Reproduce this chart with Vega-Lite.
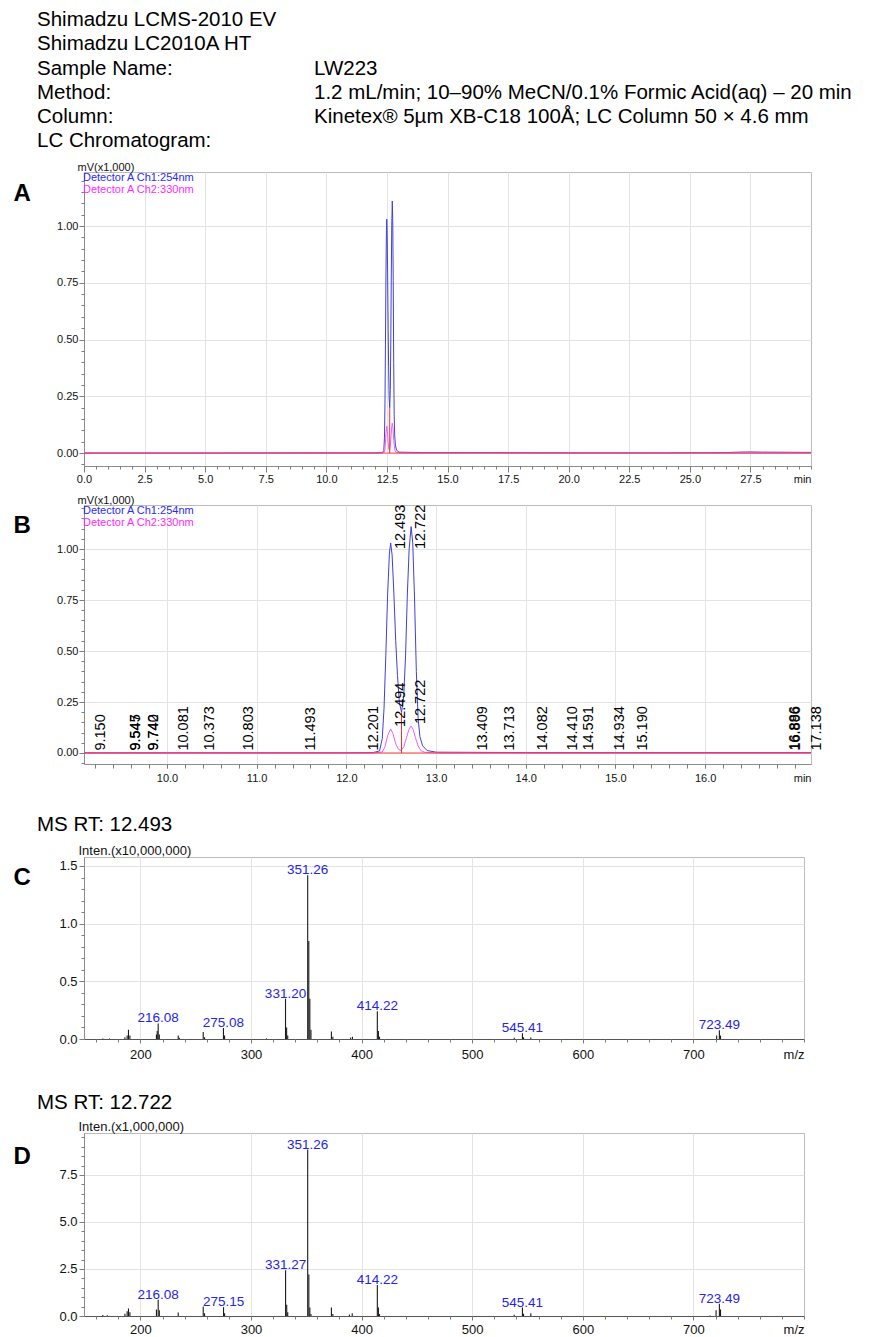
{
"$schema": "https://vega.github.io/schema/vega-lite/v6.json",
"background": "white",
"padding": {"left": 12, "top": 2, "right": 2, "bottom": 2},
"spacing": 8,
"resolve": {"scale": {"color": "independent"}, "legend": {"color": "independent"}},
"datasets": {
"header": [
{"line": 1, "col": 0, "text": "Shimadzu LCMS-2010 EV"},
{"line": 2, "col": 0, "text": "Shimadzu LC2010A HT"},
{"line": 3, "col": 0, "text": "Sample Name:"},
{"line": 3, "col": 1, "text": "LW223"},
{"line": 4, "col": 0, "text": "Method:"},
{"line": 4, "col": 1, "text": "1.2 mL/min; 10–90% MeCN/0.1% Formic Acid(aq) – 20 min"},
{"line": 5, "col": 0, "text": "Column:"},
{"line": 5, "col": 1, "text": "Kinetex® 5µm XB-C18 100Å; LC Column 50 × 4.6 mm"},
{"line": 6, "col": 0, "text": "LC Chromatogram:"}
],
"chrom": [
{"t": 0, "ch": "Detector A Ch1:254nm", "v": 0.0},
{"t": 2, "ch": "Detector A Ch1:254nm", "v": 0.0},
{"t": 5, "ch": "Detector A Ch1:254nm", "v": 0.0},
{"t": 8, "ch": "Detector A Ch1:254nm", "v": 0.0005},
{"t": 10, "ch": "Detector A Ch1:254nm", "v": 0.001},
{"t": 12, "ch": "Detector A Ch1:254nm", "v": 0.001},
{"t": 12.3, "ch": "Detector A Ch1:254nm", "v": 0.002},
{"t": 12.37, "ch": "Detector A Ch1:254nm", "v": 0.01},
{"t": 12.4, "ch": "Detector A Ch1:254nm", "v": 0.07},
{"t": 12.42, "ch": "Detector A Ch1:254nm", "v": 0.22},
{"t": 12.44, "ch": "Detector A Ch1:254nm", "v": 0.48},
{"t": 12.46, "ch": "Detector A Ch1:254nm", "v": 0.78},
{"t": 12.48, "ch": "Detector A Ch1:254nm", "v": 0.98},
{"t": 12.494, "ch": "Detector A Ch1:254nm", "v": 1.03},
{"t": 12.51, "ch": "Detector A Ch1:254nm", "v": 0.97},
{"t": 12.53, "ch": "Detector A Ch1:254nm", "v": 0.78},
{"t": 12.55, "ch": "Detector A Ch1:254nm", "v": 0.55},
{"t": 12.57, "ch": "Detector A Ch1:254nm", "v": 0.38},
{"t": 12.59, "ch": "Detector A Ch1:254nm", "v": 0.25},
{"t": 12.615, "ch": "Detector A Ch1:254nm", "v": 0.2},
{"t": 12.64, "ch": "Detector A Ch1:254nm", "v": 0.28},
{"t": 12.66, "ch": "Detector A Ch1:254nm", "v": 0.48},
{"t": 12.68, "ch": "Detector A Ch1:254nm", "v": 0.78},
{"t": 12.7, "ch": "Detector A Ch1:254nm", "v": 1.0},
{"t": 12.722, "ch": "Detector A Ch1:254nm", "v": 1.11},
{"t": 12.74, "ch": "Detector A Ch1:254nm", "v": 1.03},
{"t": 12.76, "ch": "Detector A Ch1:254nm", "v": 0.76},
{"t": 12.78, "ch": "Detector A Ch1:254nm", "v": 0.4},
{"t": 12.8, "ch": "Detector A Ch1:254nm", "v": 0.17},
{"t": 12.82, "ch": "Detector A Ch1:254nm", "v": 0.08},
{"t": 12.85, "ch": "Detector A Ch1:254nm", "v": 0.035},
{"t": 12.9, "ch": "Detector A Ch1:254nm", "v": 0.012},
{"t": 13.0, "ch": "Detector A Ch1:254nm", "v": 0.004},
{"t": 14.0, "ch": "Detector A Ch1:254nm", "v": 0.002},
{"t": 17.0, "ch": "Detector A Ch1:254nm", "v": 0.002},
{"t": 20.0, "ch": "Detector A Ch1:254nm", "v": 0.001},
{"t": 24.0, "ch": "Detector A Ch1:254nm", "v": 0.001},
{"t": 26.5, "ch": "Detector A Ch1:254nm", "v": 0.002},
{"t": 27.0, "ch": "Detector A Ch1:254nm", "v": 0.004},
{"t": 27.5, "ch": "Detector A Ch1:254nm", "v": 0.005},
{"t": 28.0, "ch": "Detector A Ch1:254nm", "v": 0.004},
{"t": 30.0, "ch": "Detector A Ch1:254nm", "v": 0.003},
{"t": 0, "ch": "Detector A Ch2:330nm", "v": 0.0},
{"t": 10, "ch": "Detector A Ch2:330nm", "v": 0.0},
{"t": 12.3, "ch": "Detector A Ch2:330nm", "v": 0.0},
{"t": 12.4, "ch": "Detector A Ch2:330nm", "v": 0.005},
{"t": 12.43, "ch": "Detector A Ch2:330nm", "v": 0.03},
{"t": 12.46, "ch": "Detector A Ch2:330nm", "v": 0.085},
{"t": 12.494, "ch": "Detector A Ch2:330nm", "v": 0.118},
{"t": 12.52, "ch": "Detector A Ch2:330nm", "v": 0.095},
{"t": 12.55, "ch": "Detector A Ch2:330nm", "v": 0.045},
{"t": 12.58, "ch": "Detector A Ch2:330nm", "v": 0.018},
{"t": 12.61, "ch": "Detector A Ch2:330nm", "v": 0.012},
{"t": 12.64, "ch": "Detector A Ch2:330nm", "v": 0.03},
{"t": 12.67, "ch": "Detector A Ch2:330nm", "v": 0.075},
{"t": 12.7, "ch": "Detector A Ch2:330nm", "v": 0.118},
{"t": 12.722, "ch": "Detector A Ch2:330nm", "v": 0.132},
{"t": 12.745, "ch": "Detector A Ch2:330nm", "v": 0.115},
{"t": 12.77, "ch": "Detector A Ch2:330nm", "v": 0.075},
{"t": 12.8, "ch": "Detector A Ch2:330nm", "v": 0.035},
{"t": 12.83, "ch": "Detector A Ch2:330nm", "v": 0.012},
{"t": 12.87, "ch": "Detector A Ch2:330nm", "v": 0.004},
{"t": 13.0, "ch": "Detector A Ch2:330nm", "v": 0.0},
{"t": 30.0, "ch": "Detector A Ch2:330nm", "v": 0.0}
],
"peaksB": [
{"rt": 9.150, "h": 0.002},
{"rt": 9.545, "h": 0.002},
{"rt": 9.547, "h": 0.002},
{"rt": 9.740, "h": 0.002},
{"rt": 9.742, "h": 0.002},
{"rt": 10.081, "h": 0.002},
{"rt": 10.373, "h": 0.002},
{"rt": 10.803, "h": 0.002},
{"rt": 11.493, "h": 0.002},
{"rt": 12.201, "h": 0.003},
{"rt": 12.493, "h": 1.03},
{"rt": 12.494, "h": 0.118},
{"rt": 12.722, "h": 1.11},
{"rt": 12.722, "h": 0.132},
{"rt": 13.409, "h": 0.002},
{"rt": 13.713, "h": 0.002},
{"rt": 14.082, "h": 0.002},
{"rt": 14.410, "h": 0.002},
{"rt": 14.591, "h": 0.002},
{"rt": 14.934, "h": 0.002},
{"rt": 15.190, "h": 0.002},
{"rt": 16.886, "h": 0.002},
{"rt": 16.896, "h": 0.002},
{"rt": 17.138, "h": 0.002}
],
"ms1": [
{"mz": 166, "i": 0.005}, {"mz": 172, "i": 0.004}, {"mz": 186, "i": 0.015}, {"mz": 188, "i": 0.03},
{"mz": 189.2, "i": 0.08}, {"mz": 190.5, "i": 0.03}, {"mz": 214.5, "i": 0.04}, {"mz": 215.2, "i": 0.07},
{"mz": 216.08, "i": 0.135, "lab": true}, {"mz": 217.1, "i": 0.04}, {"mz": 234.2, "i": 0.03}, {"mz": 235.2, "i": 0.01},
{"mz": 256.8, "i": 0.06}, {"mz": 258, "i": 0.015}, {"mz": 275.08, "i": 0.095, "lab": true}, {"mz": 276.1, "i": 0.03},
{"mz": 314, "i": 0.005}, {"mz": 331.2, "i": 0.35, "lab": true}, {"mz": 332.2, "i": 0.1}, {"mz": 333.2, "i": 0.03},
{"mz": 351.26, "i": 1.42, "lab": true}, {"mz": 352.25, "i": 0.85}, {"mz": 353.2, "i": 0.35}, {"mz": 354.2, "i": 0.08},
{"mz": 372.7, "i": 0.065}, {"mz": 374, "i": 0.02}, {"mz": 390, "i": 0.012}, {"mz": 391.7, "i": 0.02},
{"mz": 414.22, "i": 0.24, "lab": true}, {"mz": 415.2, "i": 0.07}, {"mz": 416.2, "i": 0.02},
{"mz": 538, "i": 0.01}, {"mz": 545.41, "i": 0.05, "lab": true}, {"mz": 546.4, "i": 0.015}, {"mz": 553, "i": 0.012},
{"mz": 721, "i": 0.03}, {"mz": 723.49, "i": 0.075, "lab": true}, {"mz": 724.5, "i": 0.03}
],
"ms2": [
{"mz": 166, "i": 0.05}, {"mz": 170, "i": 0.04}, {"mz": 186, "i": 0.12}, {"mz": 188, "i": 0.25},
{"mz": 189.2, "i": 0.4}, {"mz": 190.5, "i": 0.2}, {"mz": 214.5, "i": 0.35}, {"mz": 216.08, "i": 0.87, "lab": true},
{"mz": 217.1, "i": 0.3}, {"mz": 234.2, "i": 0.18}, {"mz": 256.8, "i": 0.5}, {"mz": 258, "i": 0.15},
{"mz": 275.15, "i": 0.47, "lab": true}, {"mz": 276.1, "i": 0.15}, {"mz": 331.27, "i": 2.43, "lab": true}, {"mz": 332.3, "i": 0.6},
{"mz": 333.2, "i": 0.2}, {"mz": 351.26, "i": 8.85, "lab": true}, {"mz": 352.3, "i": 2.2}, {"mz": 353.2, "i": 0.45},
{"mz": 354.2, "i": 0.1}, {"mz": 372.7, "i": 0.45}, {"mz": 374, "i": 0.1}, {"mz": 389, "i": 0.08},
{"mz": 391.5, "i": 0.15}, {"mz": 414.22, "i": 1.65, "lab": true}, {"mz": 415.2, "i": 0.45}, {"mz": 416.2, "i": 0.1},
{"mz": 538, "i": 0.07}, {"mz": 545.41, "i": 0.45, "lab": true}, {"mz": 546.4, "i": 0.12}, {"mz": 553, "i": 0.15},
{"mz": 715, "i": 0.03}, {"mz": 720.5, "i": 0.3}, {"mz": 723.49, "i": 0.65, "lab": true}, {"mz": 724.5, "i": 0.35}
]
},
"vconcat": [
{
"width": 727, "height": 145,
"view": {"stroke": null},
"data": {"name": "header"},
"mark": {"type": "text", "align": "left", "baseline": "middle", "fontSize": 20.5, "color": "#000000"},
"encoding": {
"x": {"field": "col", "type": "quantitative", "scale": {"domain": [0.16968, 2.79423], "nice": false, "zero": false}, "axis": null},
"y": {"field": "line", "type": "quantitative", "scale": {"domain": [0.244, 6.236], "reverse": true, "nice": false, "zero": false}, "axis": null},
"text": {"field": "text"}
}
},
{
"width": 727, "height": 294,
"resolve": {"axis": {"x": "independent", "y": "independent"}},
"layer": [
{
"data": {"name": "chrom"},
"transform": [{"filter": "datum.ch === 'Detector A Ch1:254nm'"}],
"mark": {"type": "line", "strokeWidth": 1, "clip": true},
"encoding": {
"x": {"field": "t", "type": "quantitative", "scale": {"domain": [0, 30], "nice": false, "zero": false},
"axis": {"orient": "bottom", "values": [0, 2.5, 5, 7.5, 10, 12.5, 15, 17.5, 20, 22.5, 25, 27.5], "format": ".1f", "tickSize": 6, "labelPadding": 1, "grid": true, "title": "min", "titleAnchor": "end", "titleAlign": "right", "titleBaseline": "top", "titleY": 7, "titleFontSize": 11}},
"y": {"field": "v", "type": "quantitative", "scale": {"domain": [-0.057, 1.238], "nice": false, "zero": false},
"axis": {"orient": "left", "values": [0, 0.25, 0.5, 0.75, 1], "format": ".2f", "tickSize": 5, "labelPadding": 1, "grid": true, "title": "mV(x1,000)", "titleAngle": 0, "titleAlign": "left", "titleBaseline": "alphabetic", "titleX": -7, "titleY": -2, "titleFontSize": 11}},
"color": {"field": "ch", "type": "nominal", "scale": {"domain": ["Detector A Ch1:254nm", "Detector A Ch2:330nm"], "range": ["#4040d8", "#f060f0"]},
"legend": {"title": null, "orient": "top-left", "offset": 0, "padding": 0, "rowPadding": 0, "symbolSize": 0, "symbolOpacity": 0, "symbolStrokeWidth": 0, "labelOffset": -12, "labelFontSize": 11, "labelLimit": 300,
"encode": {"labels": {"update": {"fill": {"signal": "datum.value === 'Detector A Ch1:254nm' ? '#2a2aff' : '#ff2aff'"}}}}}}
}
},
{
"data": {"name": "chrom"},
"transform": [{"filter": "datum.ch === 'Detector A Ch2:330nm'"}],
"mark": {"type": "line", "strokeWidth": 1, "clip": true},
"encoding": {
"x": {"field": "t", "type": "quantitative",
"axis": {"orient": "bottom", "values": [0,0.5,1,1.5,2,2.5,3,3.5,4,4.5,5,5.5,6,6.5,7,7.5,8,8.5,9,9.5,10,10.5,11,11.5,12,12.5,13,13.5,14,14.5,15,15.5,16,16.5,17,17.5,18,18.5,19,19.5,20,20.5,21,21.5,22,22.5,23,23.5,24,24.5,25,25.5,26,26.5,27,27.5,28,28.5,29,29.5,30], "labels": false, "grid": false, "domain": false, "tickSize": 3, "title": null}},
"y": {"field": "v", "type": "quantitative",
"axis": {"orient": "left", "values": [-0.05,0,0.05,0.1,0.15,0.2,0.25,0.3,0.35,0.4,0.45,0.5,0.55,0.6,0.65,0.7,0.75,0.8,0.85,0.9,0.95,1,1.05,1.1,1.15,1.2], "labels": false, "grid": false, "domain": false, "tickSize": 3, "title": "A", "titleAngle": 0, "titleAlign": "left", "titleBaseline": "top", "titleX": -71, "titleY": 9, "titleFontSize": 24, "titleFontWeight": "bold", "titleColor": "#000000"}},
"color": {"field": "ch", "type": "nominal",
"legend": {"title": null, "orient": "top-left", "offset": 0, "padding": 0, "rowPadding": 0, "symbolSize": 0, "symbolOpacity": 0, "symbolStrokeWidth": 0, "labelOffset": -12, "labelFontSize": 11, "labelLimit": 300,
"encode": {"labels": {"update": {"fill": {"signal": "datum.value === 'Detector A Ch1:254nm' ? '#2a2aff' : '#ff2aff'"}}}}}}
}
},
{
"data": {"values": [{}]},
"mark": {"type": "rule", "color": "#ff2a2a", "strokeWidth": 1, "opacity": 0.85},
"encoding": {"y": {"datum": 0, "type": "quantitative", "axis": null}}
},
{
"data": {"values": [{}]},
"mark": {"type": "rule", "color": "#ff2a2a", "strokeWidth": 1},
"encoding": {"x": {"datum": 12.615, "type": "quantitative", "axis": null}, "y": {"datum": 0, "type": "quantitative", "axis": null}, "y2": {"datum": 0.2}}
}
]
},
{
"width": 727, "height": 259,
"resolve": {"axis": {"x": "independent", "y": "independent"}},
"layer": [
{
"data": {"name": "chrom"},
"transform": [{"filter": "datum.ch === 'Detector A Ch1:254nm'"}],
"mark": {"type": "line", "strokeWidth": 1, "clip": true},
"encoding": {
"x": {"field": "t", "type": "quantitative", "scale": {"domain": [9.075, 17.18], "nice": false, "zero": false},
"axis": {"orient": "bottom", "values": [10, 11, 12, 13, 14, 15, 16], "format": ".1f", "tickSize": 4, "labelPadding": 4, "grid": true, "title": "min", "titleAnchor": "end", "titleAlign": "right", "titleBaseline": "top", "titleY": 8, "titleFontSize": 11}},
"y": {"field": "v", "type": "quantitative", "scale": {"domain": [-0.054, 1.216], "nice": false, "zero": false},
"axis": {"orient": "left", "values": [0, 0.25, 0.5, 0.75, 1], "format": ".2f", "tickSize": 5, "labelPadding": 1, "grid": true, "title": "mV(x1,000)", "titleAngle": 0, "titleAlign": "left", "titleBaseline": "alphabetic", "titleX": -7, "titleY": -2, "titleFontSize": 11}},
"color": {"field": "ch", "type": "nominal", "scale": {"domain": ["Detector A Ch1:254nm", "Detector A Ch2:330nm"], "range": ["#4040d8", "#f060f0"]},
"legend": {"title": null, "orient": "top-left", "offset": 0, "padding": 0, "rowPadding": 0, "symbolSize": 0, "symbolOpacity": 0, "symbolStrokeWidth": 0, "labelOffset": -12, "labelFontSize": 11, "labelLimit": 300,
"encode": {"labels": {"update": {"fill": {"signal": "datum.value === 'Detector A Ch1:254nm' ? '#2a2aff' : '#ff2aff'"}}}}}}
}
},
{
"data": {"name": "chrom"},
"transform": [{"filter": "datum.ch === 'Detector A Ch2:330nm'"}],
"mark": {"type": "line", "strokeWidth": 1, "clip": true},
"encoding": {
"x": {"field": "t", "type": "quantitative",
"axis": {"orient": "bottom", "values": [9.2,9.4,9.6,9.8,10,10.2,10.4,10.6,10.8,11,11.2,11.4,11.6,11.8,12,12.2,12.4,12.6,12.8,13,13.2,13.4,13.6,13.8,14,14.2,14.4,14.6,14.8,15,15.2,15.4,15.6,15.8,16,16.2,16.4,16.6,16.8,17], "labels": false, "grid": false, "domain": false, "tickSize": 4, "title": null}},
"y": {"field": "v", "type": "quantitative",
"axis": {"orient": "left", "values": [-0.05,0,0.05,0.1,0.15,0.2,0.25,0.3,0.35,0.4,0.45,0.5,0.55,0.6,0.65,0.7,0.75,0.8,0.85,0.9,0.95,1,1.05,1.1,1.15,1.2], "labels": false, "grid": false, "domain": false, "tickSize": 3, "title": "B", "titleAngle": 0, "titleAlign": "left", "titleBaseline": "top", "titleX": -71, "titleY": 8, "titleFontSize": 24, "titleFontWeight": "bold", "titleColor": "#000000"}},
"color": {"field": "ch", "type": "nominal",
"legend": {"title": null, "orient": "top-left", "offset": 0, "padding": 0, "rowPadding": 0, "symbolSize": 0, "symbolOpacity": 0, "symbolStrokeWidth": 0, "labelOffset": -12, "labelFontSize": 11, "labelLimit": 300,
"encode": {"labels": {"update": {"fill": {"signal": "datum.value === 'Detector A Ch1:254nm' ? '#2a2aff' : '#ff2aff'"}}}}}}
}
},
{
"data": {"values": [{}]},
"mark": {"type": "rule", "color": "#ff2a2a", "strokeWidth": 1, "opacity": 0.9},
"encoding": {"y": {"datum": 0, "type": "quantitative", "axis": null}}
},
{
"data": {"values": [{}]},
"mark": {"type": "rule", "color": "#ff2a2a", "strokeWidth": 1},
"encoding": {"x": {"datum": 12.615, "type": "quantitative", "axis": null}, "y": {"datum": 0, "type": "quantitative", "axis": null}, "y2": {"datum": 0.2}}
},
{
"data": {"name": "peaksB"},
"transform": [{"filter": "datum.h <= 0.5"}],
"mark": {"type": "text", "angle": 270, "align": "left", "baseline": "top", "fontSize": 14.5, "dx": 2, "dy": 3, "color": "#000000"},
"encoding": {
"x": {"field": "rt", "type": "quantitative", "axis": null},
"y": {"field": "h", "type": "quantitative", "axis": null},
"text": {"field": "rt", "type": "quantitative", "format": ".3f"}
}
},
{
"data": {"name": "peaksB"},
"transform": [{"filter": "datum.h > 0.5"}],
"mark": {"type": "text", "angle": 270, "align": "left", "baseline": "top", "fontSize": 14.5, "dx": 0, "dy": 3, "color": "#000000"},
"encoding": {
"x": {"field": "rt", "type": "quantitative", "axis": null},
"y": {"datum": 1.0, "type": "quantitative", "axis": null},
"text": {"field": "rt", "type": "quantitative", "format": ".3f"}
}
}
]
},
{
"width": 720, "height": 182,
"title": {"text": ["", "MS RT: 12.493"], "anchor": "start", "frame": "group", "dx": -47, "fontSize": 20.5, "fontWeight": "normal", "baseline": "alphabetic", "lineHeight": 22.7, "offset": -8, "color": "#000000"},
"resolve": {"axis": {"x": "independent", "y": "independent"}},
"layer": [
{
"data": {"name": "ms1"},
"mark": {"type": "rule", "color": "#1a1a1a", "strokeWidth": 1.1},
"encoding": {
"x": {"field": "mz", "type": "quantitative", "scale": {"domain": [149, 800], "nice": false, "zero": false},
"axis": {"orient": "bottom", "values": [200, 300, 400, 500, 600, 700], "format": "d", "tickSize": 4, "labelPadding": 5, "labelFontSize": 13, "grid": true, "domainColor": "#555555", "title": "m/z", "titleAnchor": "end", "titleAlign": "right", "titleBaseline": "top", "titleY": 9, "titleFontSize": 13}},
"y": {"field": "i", "type": "quantitative", "scale": {"domain": [0, 1.578], "nice": false, "zero": false},
"axis": {"orient": "left", "values": [0, 0.5, 1, 1.5], "format": ".1f", "tickSize": 5, "labelPadding": 2, "labelFontSize": 13, "grid": true, "title": "Inten.(x10,000,000)", "titleAngle": 0, "titleAlign": "left", "titleBaseline": "alphabetic", "titleX": -6, "titleY": -3, "titleFontSize": 13}},
"y2": {"datum": 0}
}
},
{
"data": {"name": "ms1"},
"transform": [{"filter": "datum.lab"}],
"mark": {"type": "text", "align": "center", "baseline": "alphabetic", "dy": -1, "fontSize": 13.5, "color": "#2424e8"},
"encoding": {
"x": {"field": "mz", "type": "quantitative",
"axis": {"orient": "bottom", "values": [160,180,200,220,240,260,280,300,320,340,360,380,400,420,440,460,480,500,520,540,560,580,600,620,640,660,680,700,720,740,760,780,800], "labels": false, "grid": false, "domain": false, "tickSize": 3, "title": null}},
"y": {"field": "i", "type": "quantitative",
"axis": {"orient": "left", "values": [0,0.1,0.2,0.3,0.4,0.5,0.6,0.7,0.8,0.9,1,1.1,1.2,1.3,1.4,1.5], "labels": false, "grid": false, "domain": false, "tickSize": 3, "title": "C", "titleAngle": 0, "titleAlign": "left", "titleBaseline": "top", "titleX": -71, "titleY": 8, "titleFontSize": 24, "titleFontWeight": "bold", "titleColor": "#000000"}},
"text": {"field": "mz", "type": "quantitative", "format": ".2f"}
}
}
]
},
{
"width": 720, "height": 183,
"title": {"text": ["", "MS RT: 12.722"], "anchor": "start", "frame": "group", "dx": -47, "fontSize": 20.5, "fontWeight": "normal", "baseline": "alphabetic", "lineHeight": 22.3, "offset": -10, "color": "#000000"},
"resolve": {"axis": {"x": "independent", "y": "independent"}},
"layer": [
{
"data": {"name": "ms2"},
"mark": {"type": "rule", "color": "#1a1a1a", "strokeWidth": 1.1},
"encoding": {
"x": {"field": "mz", "type": "quantitative", "scale": {"domain": [149, 800], "nice": false, "zero": false},
"axis": {"orient": "bottom", "values": [200, 300, 400, 500, 600, 700], "format": "d", "tickSize": 4, "labelPadding": 3, "labelFontSize": 13, "grid": true, "domainColor": "#555555", "title": "m/z", "titleAnchor": "end", "titleAlign": "right", "titleBaseline": "top", "titleY": 7, "titleFontSize": 13}},
"y": {"field": "i", "type": "quantitative", "scale": {"domain": [0, 9.73], "nice": false, "zero": false},
"axis": {"orient": "left", "values": [0, 2.5, 5, 7.5], "format": ".1f", "tickSize": 5, "labelPadding": 2, "labelFontSize": 13, "grid": true, "title": "Inten.(x1,000,000)", "titleAngle": 0, "titleAlign": "left", "titleBaseline": "alphabetic", "titleX": -6, "titleY": -3, "titleFontSize": 13}},
"y2": {"datum": 0}
}
},
{
"data": {"name": "ms2"},
"transform": [{"filter": "datum.lab"}],
"mark": {"type": "text", "align": "center", "baseline": "alphabetic", "dy": -1, "fontSize": 13.5, "color": "#2424e8"},
"encoding": {
"x": {"field": "mz", "type": "quantitative",
"axis": {"orient": "bottom", "values": [160,180,200,220,240,260,280,300,320,340,360,380,400,420,440,460,480,500,520,540,560,580,600,620,640,660,680,700,720,740,760,780,800], "labels": false, "grid": false, "domain": false, "tickSize": 3, "title": null}},
"y": {"field": "i", "type": "quantitative",
"axis": {"orient": "left", "values": [0,0.5,1,1.5,2,2.5,3,3.5,4,4.5,5,5.5,6,6.5,7,7.5,8,8.5,9,9.5], "labels": false, "grid": false, "domain": false, "tickSize": 3, "title": "D", "titleAngle": 0, "titleAlign": "left", "titleBaseline": "top", "titleX": -71, "titleY": 11, "titleFontSize": 24, "titleFontWeight": "bold", "titleColor": "#000000"}},
"text": {"field": "mz", "type": "quantitative", "format": ".2f"}
}
}
]
}
],
"config": {
"font": "Liberation Sans",
"view": {"stroke": "#bcbcbc"},
"axis": {"labelFont": "Liberation Sans", "titleFont": "Liberation Sans", "labelColor": "#111111", "titleColor": "#111111", "titleFontWeight": "normal", "domainColor": "#8c8c8c", "tickColor": "#7c7c7c", "gridColor": "#e3e3e3", "labelFlush": false, "labelOverlap": false, "labelFontSize": 11},
"title": {"font": "Liberation Sans"},
"legend": {"labelFont": "Liberation Sans"},
"text": {"font": "Liberation Sans"}
}
}
